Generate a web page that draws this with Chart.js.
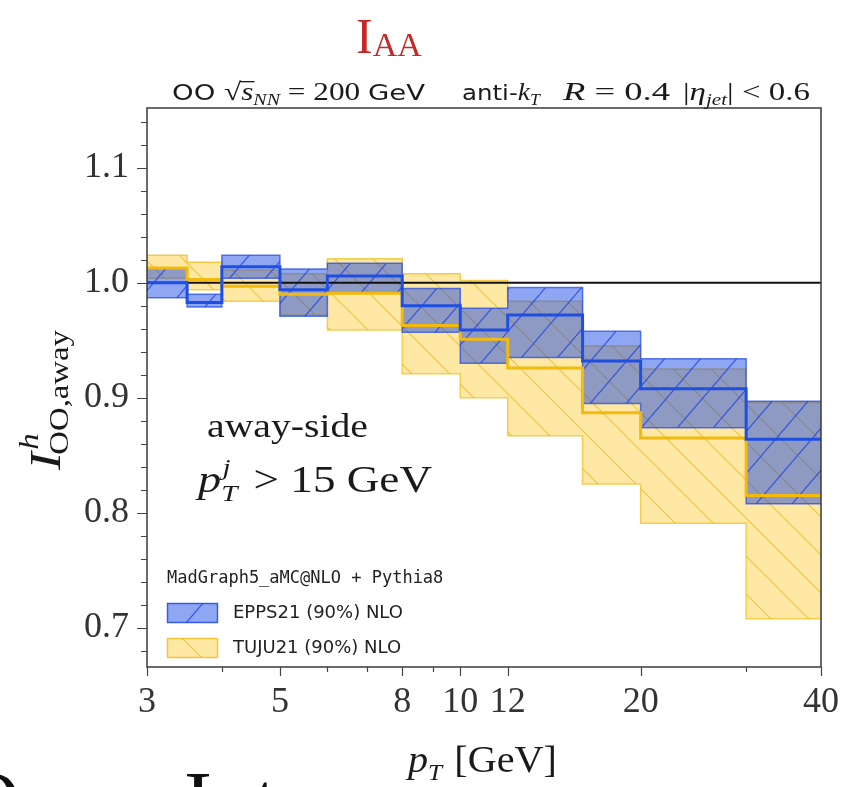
<!DOCTYPE html>
<html>
<head>
<meta charset="utf-8">
<script src="https://cdn.jsdelivr.net/npm/chart.js@4.4.1/dist/chart.umd.min.js"></script>
<style>
  body { margin: 0; background: #fff; }
  #wrap { position: relative; width: 853px; height: 787px; overflow: hidden; }
</style>
</head>
<body>
<div id="wrap"><canvas id="grafica" width="853" height="787"></canvas></div>
<script>
// bins en pT (GeV)
const binEdges = [3, 3.5, 4, 5, 6, 8, 10, 12, 16, 20, 30, 40];

// EPPS21 (90%) NLO
const eppsCentral = [1.000, 0.983, 1.014, 0.994, 1.006, 0.980, 0.959, 0.972, 0.932, 0.908, 0.864];
const eppsLower   = [0.987, 0.979, 1.004, 0.971, 0.991, 0.957, 0.930, 0.935, 0.895, 0.874, 0.808];
const eppsUpper   = [1.013, 0.990, 1.024, 1.012, 1.017, 0.995, 0.978, 0.996, 0.958, 0.934, 0.897];

// TUJU21 (90%) NLO
const tujuCentral = [1.013, 1.003, 0.997, 0.990, 0.991, 0.963, 0.951, 0.926, 0.887, 0.865, 0.815];
const tujuLower   = [1.004, 0.994, 0.984, 0.972, 0.959, 0.921, 0.900, 0.867, 0.825, 0.791, 0.708];
const tujuUpper   = [1.024, 1.018, 1.011, 1.008, 1.021, 1.008, 1.002, 0.984, 0.945, 0.925, 0.896];

const refLevel = 1.0;

const xTickValues = [3, 4, 5, 6, 7, 8, 9, 10, 12, 20, 30, 40];
const xTickLabels = [3, 5, 8, 10, 12, 20, 40];
const yTickValues = [0.7, 0.8, 0.9, 1.0, 1.1];
const yTickLabels = ['0.7', '0.8', '0.9', '1.0', '1.1'];
const yMinorStep = 0.02;

const serif = 'Liberation Serif';

function escalones(vals) {
    const pts = vals.map((v, i) => ({ x: binEdges[i], y: v }));
    pts.push({ x: binEdges[binEdges.length - 1], y: vals[vals.length - 1] });
    return pts;
}

function rayado(fill, line, w, h, dir) {
    const c = document.createElement('canvas');
    c.width = w; c.height = h;
    const g = c.getContext('2d');
    g.fillStyle = fill;
    g.fillRect(0, 0, w, h);
    g.strokeStyle = line;
    g.lineWidth = 1.2;
    g.beginPath();
    for (let k = -1; k <= 1; k++) {
        if (dir === '/') { g.moveTo(k * w, h); g.lineTo(k * w + w, 0); }
        else { g.moveTo(k * w, 0); g.lineTo(k * w + w, h); }
    }
    g.stroke();
    return g.createPattern(c, 'repeat');
}

const ctx = document.getElementById('grafica').getContext('2d');
const patAzul = rayado('rgba(20,70,230,0.48)', 'rgba(25,65,225,0.75)', 36, 42, '/');
const patAmarillo = rayado('rgba(255,205,50,0.45)', 'rgba(225,170,20,0.6)', 38, 38, '\\');

function ancho(c, parts) {
    let w = 0;
    for (const p of parts) {
        c.font = p.f;
        if (!p.stay) w += c.measureText(p.t).width + (p.dx || 0);
    }
    return w;
}

// texto con partes (sub/superíndices); si se da "target" se estira a ese ancho
function texto(c, parts, x, y, sx = 1, target = 0) {
    if (target) sx = target / ancho(c, parts);
    c.save();
    c.translate(x, y);
    c.scale(sx, 1);
    let cx = 0;
    for (const p of parts) {
        c.font = p.f;
        c.fillStyle = p.c || '#1a1a1a';
        c.textBaseline = 'alphabetic';
        const w = c.measureText(p.t).width;
        c.fillText(p.t, cx + (p.dx || 0), p.dy || 0);
        if (p.over) {
            c.fillRect(cx - 1, p.over, w + 2, 1.3);
        }
        if (!p.stay) cx += w + (p.dx || 0);
    }
    c.restore();
    return cx * sx;
}

const anotaciones = {
    id: 'anotaciones',
    afterDatasetsDraw(chart) {
        const c = chart.ctx;
        const a = chart.chartArea;
        const xs = chart.scales.x, ys = chart.scales.y;

        // marco
        c.save();
        c.strokeStyle = '#3a3a3a';
        c.lineWidth = 1.5;
        c.strokeRect(a.left, a.top, a.right - a.left, a.bottom - a.top);

        // ticks hacia fuera
        c.strokeStyle = '#444';
        c.lineWidth = 1.2;
        c.beginPath();
        for (const v of xTickValues) {
            const px = Math.round(xs.getPixelForValue(v)) + 0.5;
            const len = xTickLabels.includes(v) ? 9 : 5;
            c.moveTo(px, a.bottom); c.lineTo(px, a.bottom + len);
        }
        for (let v = 0.68; v < ys.max; v += yMinorStep) {
            const r = Math.round(v * 100) / 100;
            const py = Math.round(ys.getPixelForValue(r)) + 0.5;
            const len = yTickValues.some(t => Math.abs(t - r) < 1e-6) ? 10 : 6;
            c.moveTo(a.left, py); c.lineTo(a.left - len, py);
        }
        c.stroke();

        // leyenda
        const lx = 167;
        c.font = '17px "DejaVu Sans Mono"';
        c.fillStyle = '#222';
        c.textBaseline = 'middle';
        c.fillText('MadGraph5_aMC@NLO + Pythia8', lx, 579);
        const items = [
            { label: 'EPPS21 (90%) NLO', pat: patAzul, edge: 'rgba(30,70,230,0.8)', y: 603 },
            { label: 'TUJU21 (90%) NLO', pat: patAmarillo, edge: 'rgba(240,190,30,0.8)', y: 638 }
        ];
        for (const it of items) {
            c.fillStyle = it.pat;
            c.fillRect(lx, it.y, 51, 20);
            c.strokeStyle = it.edge;
            c.lineWidth = 1.5;
            c.strokeRect(lx + 0.5, it.y + 0.5, 50, 19);
            c.fillStyle = '#222';
            c.font = '18px "DejaVu Sans"';
            c.fillText(it.label, 233, it.y + 10);
        }
        c.restore();

        // textos dentro del panel
        texto(c, [{ t: 'away-side', f: `34px "${serif}"` }], 207, 437, 1, 161);
        texto(c, [
            { t: 'p', f: `italic 38px "${serif}"` },
            { t: 'j', f: `italic 24px "${serif}"`, dy: -17, dx: 1, stay: true },
            { t: 'T', f: `italic 24px "${serif}"`, dy: 9, dx: 0 },
            { t: ' > 15 GeV', f: `37px "${serif}"`, dx: 4 }
        ], 198, 492, 1, 234);

        // cabecera, por bloques
        const sans = '22px "DejaVu Sans"';
        const m = `25px "${serif}"`, mi = `italic 25px "${serif}"`, ms = `italic 16px "${serif}"`;
        texto(c, [
            { t: 'OO ', f: sans },
            { t: '√', f: m },
            { t: 's', f: mi, over: -19 },
            { t: 'NN', f: ms, dy: 5 },
            { t: ' = 200 ', f: m },
            { t: 'GeV', f: sans }
        ], 172, 100, 1, 253);
        texto(c, [
            { t: 'anti-', f: sans },
            { t: 'k', f: mi },
            { t: 'T', f: ms, dy: 5 }
        ], 462, 100, 1, 78);
        texto(c, [
            { t: 'R', f: mi },
            { t: ' = 0.4', f: m }
        ], 563, 100, 1, 107);
        texto(c, [
            { t: '|', f: m },
            { t: 'η', f: mi },
            { t: 'jet', f: ms, dy: 5 },
            { t: '| < 0.6', f: m }
        ], 683, 100, 1, 127);

        // título
        texto(c, [
            { t: 'I', f: `50px "${serif}"`, c: '#c62828' },
            { t: 'AA', f: `34px "${serif}"`, c: '#c62828', dy: 3 }
        ], 356, 53);

        // título eje x
        texto(c, [
            { t: 'p', f: `italic 38px "${serif}"` },
            { t: 'T', f: `italic 24px "${serif}"`, dy: 8 },
            { t: ' [GeV]', f: `38px "${serif}"`, dx: 2 }
        ], 408, 772, 1, 149);

        // título eje y
        c.save();
        c.translate(60, 470);
        c.rotate(-Math.PI / 2);
        texto(c, [
            { t: 'I', f: `italic 44px "${serif}"` },
            { t: 'h', f: `italic 27px "${serif}"`, dy: -22, dx: 2, stay: true },
            { t: 'OO,away', f: `27px "${serif}"`, dy: 8, dx: -2 }
        ], 0, 0, 1, 140);
        c.restore();

        // texto de la diapositiva, cortado abajo
        const pie = `84px "${serif}"`;
        texto(c, [{ t: 'Our', f: pie, c: '#111' }], -40, 830);
        texto(c, [{ t: 'Int', f: pie, c: '#111' }], 184, 830);
    }
};

new Chart(ctx, {
    type: 'line',
    data: {
        datasets: [
            { label: 'EPPS21 central', data: escalones(eppsCentral), stepped: true,
              borderColor: '#1f4fe0', borderWidth: 3, pointRadius: 0, fill: false },
            { label: 'TUJU21 central', data: escalones(tujuCentral), stepped: true,
              borderColor: '#f2b90f', borderWidth: 3, pointRadius: 0, fill: false },
            { label: 'ref', data: [{ x: binEdges[0], y: refLevel }, { x: binEdges[binEdges.length - 1], y: refLevel }],
              borderColor: '#111', borderWidth: 2, pointRadius: 0, fill: false },
            { label: 'EPPS21 sup', data: escalones(eppsUpper), stepped: true,
              borderColor: 'rgba(30,70,230,0.7)', borderWidth: 1.5, pointRadius: 0,
              fill: '+1', backgroundColor: patAzul },
            { label: 'EPPS21 inf', data: escalones(eppsLower), stepped: true,
              borderColor: 'rgba(30,70,230,0.7)', borderWidth: 1.5, pointRadius: 0, fill: false },
            { label: 'TUJU21 sup', data: escalones(tujuUpper), stepped: true,
              borderColor: 'rgba(240,190,30,0.75)', borderWidth: 1.5, pointRadius: 0,
              fill: '+1', backgroundColor: patAmarillo },
            { label: 'TUJU21 inf', data: escalones(tujuLower), stepped: true,
              borderColor: 'rgba(240,190,30,0.75)', borderWidth: 1.5, pointRadius: 0, fill: false }
        ]
    },
    options: {
        responsive: false,
        animation: false,
        layout: { padding: { top: 108, right: 31, left: 0, bottom: 0 } },
        plugins: { legend: { display: false }, tooltip: { enabled: false } },
        scales: {
            x: {
                type: 'logarithmic',
                min: 3,
                max: 40,
                afterBuildTicks: (s) => { s.ticks = xTickValues.map(v => ({ value: v })); },
                afterFit: (s) => { s.height = 120; },
                grid: { display: false, drawTicks: false },
                border: { display: false },
                ticks: {
                    autoSkip: false,
                    maxRotation: 0,
                    padding: 14,
                    color: '#333',
                    font: { family: serif, size: 36 },
                    callback: (v) => xTickLabels.includes(v) ? String(v) : ''
                }
            },
            y: {
                min: 0.666,
                max: 1.152,
                afterBuildTicks: (s) => { s.ticks = yTickValues.map(v => ({ value: v })); },
                afterFit: (s) => { s.width = 147; },
                grid: { display: false, drawTicks: false },
                border: { display: false },
                ticks: {
                    padding: 18,
                    color: '#333',
                    font: { family: serif, size: 36 },
                    callback: (v, i) => yTickLabels[i]
                }
            }
        }
    },
    plugins: [anotaciones]
});
</script>
</body>
</html>
